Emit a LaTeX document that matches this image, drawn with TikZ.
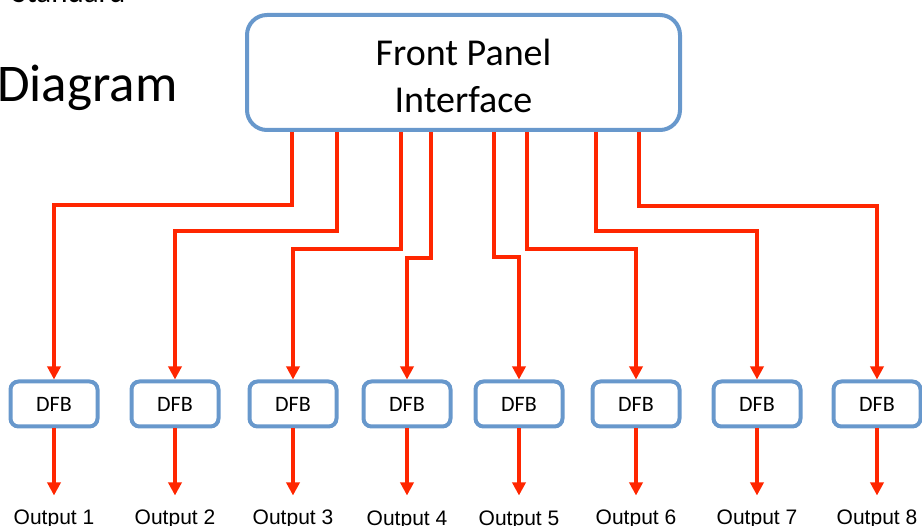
\documentclass[tikz,border=0pt]{standalone}
\usepackage{fontspec}
\setmainfont{Carlito}
\newfontfamily\arialfont{Liberation Sans}
\usetikzlibrary{arrows.meta,calc,positioning}
\definecolor{panelblue}{RGB}{104,152,204}
\definecolor{sigred}{RGB}{255,38,0}

\begin{document}
\begin{tikzpicture}[x=1pt,y=-1pt,>={Triangle[length=13pt,width=13pt]}]
  \tikzset{
    panel/.style={draw=panelblue,line width=4pt,rounded corners=20pt,
                  minimum width=433pt,minimum height=115pt},
    paneltext/.style={align=center,font=\fontsize{38}{47}\selectfont},
    dfb/.style={draw=panelblue,line width=4pt,rounded corners=8pt,
                minimum width=87pt,minimum height=45pt,
                font=\fontsize{22}{24}\selectfont},
    outlab/.style={inner sep=0pt,text height=15pt,
                   font=\arialfont\fontsize{21}{24}\selectfont},
    sig/.style={draw=sigred,line width=3.5pt,->}
  }
  \useasboundingbox (0,0) rectangle (922,526);
  \clip (0,0) rectangle (922,526);

  % heading text at the left
  \node[anchor=base west,inner sep=0pt,font=\fontsize{31}{31}\selectfont] (sub) at (12,3) {Standard};
  \node[anchor=base west,inner sep=0pt,font=\fontsize{53}{53}\selectfont] (title) at (-3,102) {Diagram};

  \node[panel] (fp) at (463.5,72.5) {};
  \node[paneltext] (fptext) at (463.5,76) {Front Panel\\Interface};

  % taps along the bottom edge of the panel
  \coordinate (t1) at ($(fp.south west)+(47,0)$);
  \coordinate (t2) at ($(fp.south west)+(92,0)$);
  \coordinate (t3) at ($(fp.south west)+(156,0)$);
  \coordinate (t4) at ($(fp.south west)+(186,0)$);
  \coordinate (t5) at ($(fp.south west)+(249,0)$);
  \coordinate (t6) at ($(fp.south west)+(282,0)$);
  \coordinate (t7) at ($(fp.south west)+(351,0)$);
  \coordinate (t8) at ($(fp.south west)+(394,0)$);

  \node[dfb] (d1) at (54,404) {DFB};
  \node[dfb] (d2) at (175,404) {DFB};
  \node[dfb] (d3) at (293,404) {DFB};
  \node[dfb] (d4) at (407,404) {DFB};
  \node[dfb] (d5) at (519,404) {DFB};
  \node[dfb] (d6) at (636,404) {DFB};
  \node[dfb] (d7) at (757,404) {DFB};
  \node[dfb] (d8) at (877,404) {DFB};

  \draw[sig] (t1) -- ++(0,73) -| (d1.north);
  \draw[sig] (t2) -- ++(0,99) -| (d2.north);
  \draw[sig] (t3) -- ++(0,117) -| (d3.north);
  \draw[sig] (t4) -- ++(0,126) -| (d4.north);
  \draw[sig] (t5) -- ++(0,125) -| (d5.north);
  \draw[sig] (t6) -- ++(0,117) -| (d6.north);
  \draw[sig] (t7) -- ++(0,99) -| (d7.north);
  \draw[sig] (t8) -- ++(0,74) -| (d8.north);

  \node[outlab,below=81pt of d1] (o1) {Output 1};
  \node[outlab,below=81pt of d2] (o2) {Output 2};
  \node[outlab,below=81pt of d3] (o3) {Output 3};
  \node[outlab,below=82pt of d4] (o4) {Output 4};
  \node[outlab,below=82pt of d5] (o5) {Output 5};
  \node[outlab,below=81pt of d6] (o6) {Output 6};
  \node[outlab,below=81pt of d7] (o7) {Output 7};
  \node[outlab,below=81pt of d8] (o8) {Output 8};

  \draw[sig,shorten >=14pt] (d1) -- (o1);
  \draw[sig,shorten >=14pt] (d2) -- (o2);
  \draw[sig,shorten >=14pt] (d3) -- (o3);
  \draw[sig,shorten >=15pt] (d4) -- (o4);
  \draw[sig,shorten >=15pt] (d5) -- (o5);
  \draw[sig,shorten >=14pt] (d6) -- (o6);
  \draw[sig,shorten >=14pt] (d7) -- (o7);
  \draw[sig,shorten >=14pt] (d8) -- (o8);
\end{tikzpicture}
\end{document}
